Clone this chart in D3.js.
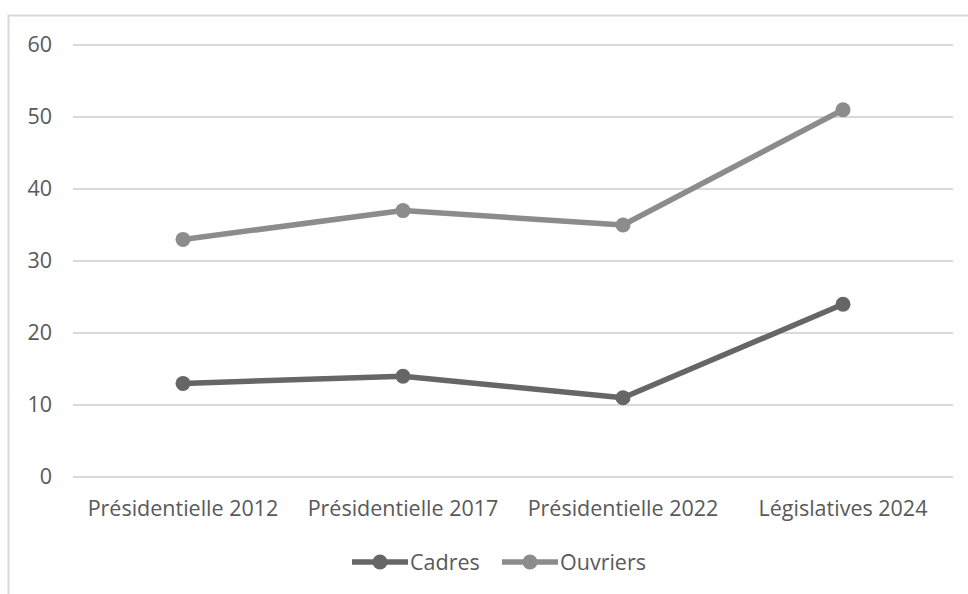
<!DOCTYPE html>
<html>
<head>
<meta charset="utf-8">
<script src="https://cdn.jsdelivr.net/npm/d3@7/dist/d3.min.js"></script>
<style>
  html, body { margin: 0; padding: 0; background: #fff; }
  svg { display: block; }
  text { font-family: "Open Sans", "Noto Sans", sans-serif; fill: #595959; }
</style>
</head>
<body>
<svg id="chart" width="968" height="594"></svg>
<script>
const categories = ["Présidentielle 2012", "Présidentielle 2017", "Présidentielle 2022", "Législatives 2024"];
const cadres = [13, 14, 11, 24];
const ouvriers = [33, 37, 35, 51];
const yTicks = [0, 10, 20, 30, 40, 50, 60];
const seriesNames = ["Cadres", "Ouvriers"];
const seriesColors = ["#666666", "#8c8c8c"];

const svg = d3.select("#chart");
const W = 968, H = 594;
const plot = { left: 73, right: 953, top: 45, bottom: 477 };
const FONT = 21.5;

// chart frame
svg.append("rect")
  .attr("x", 8.5).attr("y", 15.5)
  .attr("width", W + 10).attr("height", H + 10)
  .attr("fill", "none").attr("stroke", "#d9d9d9").attr("stroke-width", 2);

const x = d3.scaleBand().domain(categories).range([plot.left, plot.right]);
const y = d3.scaleLinear().domain([0, 60]).range([plot.bottom, plot.top]);

// horizontal gridlines
svg.append("g")
  .selectAll("line")
  .data(yTicks)
  .join("line")
  .attr("x1", plot.left).attr("x2", plot.right)
  .attr("y1", d => y(d)).attr("y2", d => y(d))
  .attr("stroke", "#d9d9d9").attr("stroke-width", 2);

// y axis labels
const yAxis = d3.axisLeft(y).tickValues(yTicks).tickSize(0).tickPadding(0);
const gy = svg.append("g").attr("transform", `translate(52,0)`).call(yAxis);
gy.select(".domain").remove();
gy.selectAll("text")
  .attr("font-size", FONT).attr("fill", "#595959")
  .style("font-family", '"Open Sans", "Noto Sans", sans-serif');

// x axis labels
const xAxis = d3.axisBottom(x).tickSize(0).tickPadding(0);
const gx = svg.append("g").attr("transform", `translate(0,${plot.bottom + 24})`).call(xAxis);
gx.select(".domain").remove();
gx.selectAll("text")
  .attr("font-size", FONT).attr("fill", "#595959")
  .style("font-family", '"Open Sans", "Noto Sans", sans-serif');

const cx = d => x(d) + x.bandwidth() / 2;
const series = [cadres, ouvriers];
const line = d3.line().x((d, i) => cx(categories[i])).y(d => y(d));

series.forEach((vals, s) => {
  const g = svg.append("g");
  g.append("path")
    .attr("d", line(vals))
    .attr("fill", "none")
    .attr("stroke", seriesColors[s])
    .attr("stroke-width", 5.5)
    .attr("stroke-linecap", "round")
    .attr("stroke-linejoin", "round");
  g.selectAll("circle")
    .data(vals)
    .join("circle")
    .attr("cx", (d, i) => cx(categories[i]))
    .attr("cy", d => y(d))
    .attr("r", 7.5)
    .attr("fill", seriesColors[s]);
});

// legend
const legendX = [352, 502];
const legendY = 562;
seriesNames.forEach((name, s) => {
  const g = svg.append("g").attr("transform", `translate(${legendX[s]},${legendY})`);
  g.append("line").attr("x1", 0).attr("x2", 56).attr("y1", 0).attr("y2", 0)
    .attr("stroke", seriesColors[s]).attr("stroke-width", 5.5);
  g.append("circle").attr("cx", 28).attr("cy", 0).attr("r", 7.5).attr("fill", seriesColors[s]);
  g.append("text").attr("x", 58).attr("y", 0).attr("dy", "0.35em")
    .attr("font-size", FONT).text(name);
});
</script>
</body>
</html>
